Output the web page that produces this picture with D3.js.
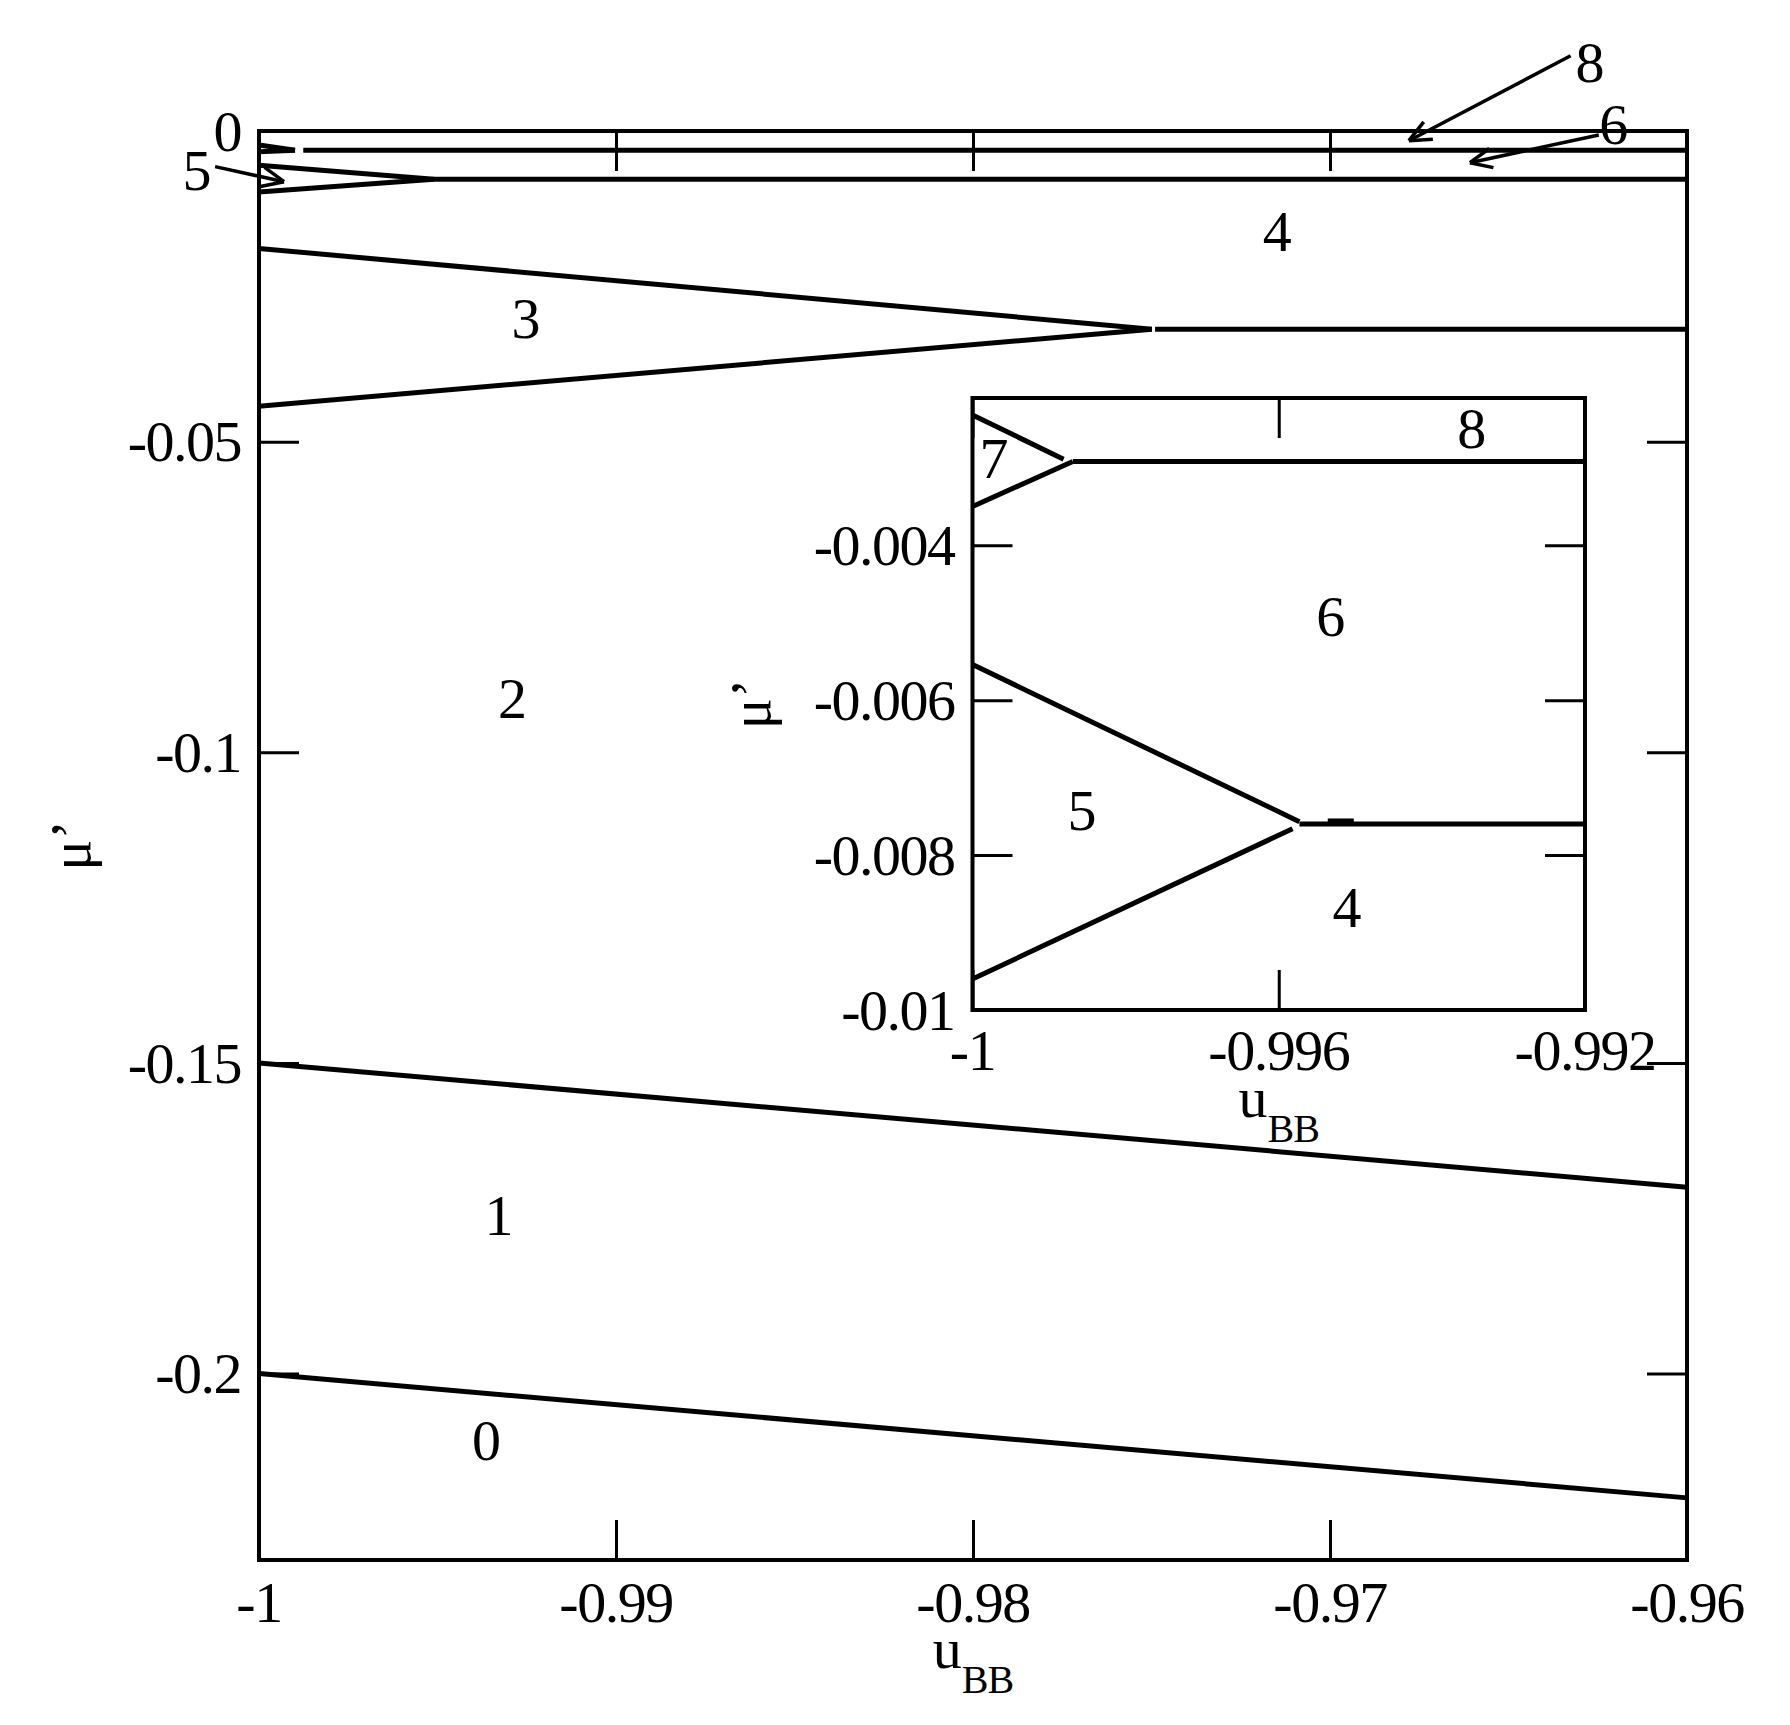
<!DOCTYPE html>
<html>
<head>
<meta charset="utf-8">
<script src="https://d3js.org/d3.v7.min.js"></script>
<style>
  body { margin: 0; background: #fff; }
  text { font-family: "Liberation Serif", "Times New Roman", serif; fill: #000; }
</style>
</head>
<body>
<div id="chart"></div>
<script>
// ---- main panel: axes ----
var mainXTicks = [-1, -0.99, -0.98, -0.97, -0.96];
var mainXLabels = ["-1", "-0.99", "-0.98", "-0.97", "-0.96"];
var mainYTicks = [0, -0.05, -0.1, -0.15, -0.2];
var mainYLabels = ["0", "-0.05", "-0.1", "-0.15", "-0.2"];

// ---- main panel: phase boundaries, [u_BB, mu'] ----
var b01 = [[-1, -0.2], [-0.96, -0.22]];
var b12 = [[-1, -0.15], [-0.96, -0.17]];
var b23 = [[-1, -0.0443], [-0.97499, -0.0319]];
var b34 = [[-1, -0.0189], [-0.97499, -0.0319]];
var b24 = [[-0.9749, -0.0319], [-0.96, -0.0319]];
var b45 = [[-1, -0.0098], [-0.9951, -0.00775]];
var b56 = [[-1, -0.0055], [-0.9951, -0.00775]];
var b46 = [[-0.9951, -0.00775], [-0.96, -0.00775]];
var b67 = [[-1, -0.00333], [-0.99899, -0.0031]];
var b78 = [[-1, -0.00225], [-0.99899, -0.0031]];
var b68 = [[-0.99876, -0.0031], [-0.96, -0.0031]];

// region numbers in the main panel, [u_BB, mu']
var mainRegionText = ["0", "1", "2", "3", "4"];
var mainRegionPos = [[-0.99363, -0.2107], [-0.99328, -0.1745], [-0.9929, -0.0913], [-0.99252, -0.0302], [-0.97148, -0.0162]];

// arrow annotations: label, label position, arrow tail, arrow tip
var arrowText = ["8", "6", "5"];
var arrowTextPos = [[-0.96272, 0.0110], [-0.96205, 0.0011], [-1.00174, -0.0064]];
var arrowFrom = [[-0.96326, 0.0121], [-0.96247, -0.00064], [-1.00123, -0.00574]];
var arrowTo = [[-0.96779, -0.00156], [-0.96608, -0.0051], [-0.9993, -0.00816]];

// ---- inset ----
var insetXTicks = [-1, -0.996, -0.992];
var insetXLabels = ["-1", "-0.996", "-0.992"];
var insetYTicks = [-0.004, -0.006, -0.008, -0.01];
var insetYLabels = ["-0.004", "-0.006", "-0.008", "-0.01"];

var i45 = [[-1, -0.0096], [-0.99582, -0.00766]];
var i56 = [[-1, -0.00554], [-0.99573, -0.00757]];
var i46 = [[-0.99573, -0.0076], [-0.992, -0.0076]];
var i46b = [[-0.99536, -0.00756], [-0.99502, -0.00756]];
var i67 = [[-1, -0.0035], [-0.99869, -0.00292]];
var i78 = [[-1, -0.00232], [-0.99881, -0.00289]];
var i68 = [[-0.99869, -0.00292], [-0.992, -0.00292]];

var insetRegionText = ["8", "7", "6", "5", "4"];
var insetRegionPos = [[-0.99348, -0.00249], [-0.99972, -0.00288], [-0.99532, -0.00492], [-0.99857, -0.00742], [-0.99511, -0.00868]];

var W = 1790, H = 1725;
var FS = 58;

var svg = d3.select("#chart").append("svg")
    .attr("width", W).attr("height", H)
    .style("background", "#fff");

var line = function (x, y) {
    return d3.line().x(function (d) { return x(d[0]); }).y(function (d) { return y(d[1]); });
};

function panel(x, y, o) {
    var g = svg.append("g");
    var x0 = x.range()[0], x1 = x.range()[1], y0 = y.range()[0], y1 = y.range()[1];

    g.append("rect")
        .attr("x", x0).attr("y", y1).attr("width", x1 - x0).attr("height", y0 - y1)
        .attr("fill", "#fff");

    // ticks on all four sides, pointing inward
    var axes = [
        [d3.axisBottom(x).tickValues(o.xt), "translate(0," + y0 + ")"],
        [d3.axisTop(x).tickValues(o.xt), "translate(0," + y1 + ")"],
        [d3.axisLeft(y).tickValues(o.yt), "translate(" + x0 + ",0)"],
        [d3.axisRight(y).tickValues(o.yt), "translate(" + x1 + ",0)"]
    ];
    axes.forEach(function (a) {
        var ag = g.append("g").attr("transform", a[1])
            .call(a[0].tickSizeInner(-40).tickSizeOuter(0).tickFormat(""));
        ag.select(".domain").remove();
        ag.selectAll(".tick line").attr("stroke", "#000").attr("stroke-width", 3);
        ag.selectAll(".tick text").remove();
    });

    // tick labels
    g.selectAll(null).data(o.xt).enter().append("text")
        .attr("x", function (d) { return x(d); })
        .attr("y", y0 + o.xlabGap)
        .attr("text-anchor", "middle")
        .style("font-size", FS + "px").style("letter-spacing", "-1.5px")
        .text(function (d, i) { return o.xl[i]; });
    g.selectAll(null).data(o.yt).enter().append("text")
        .attr("x", x0 - 18)
        .attr("y", function (d) { return y(d); })
        .attr("dy", "0.34em")
        .attr("text-anchor", "end")
        .style("font-size", FS + "px").style("letter-spacing", "-1.5px")
        .text(function (d, i) { return o.yl[i]; });

    // boundaries
    var ln = line(x, y);
    o.lines.forEach(function (d) {
        g.append("path").attr("d", ln(d))
            .attr("fill", "none").attr("stroke", "#000").attr("stroke-width", 5);
    });

    // region numbers
    g.selectAll(null).data(o.rp).enter().append("text")
        .attr("x", function (d) { return x(d[0]); })
        .attr("y", function (d) { return y(d[1]); })
        .attr("dy", "0.34em")
        .attr("text-anchor", "middle")
        .style("font-size", FS + "px")
        .text(function (d, i) { return o.rt[i]; });

    // frame
    g.append("rect")
        .attr("x", x0).attr("y", y1).attr("width", x1 - x0).attr("height", y0 - y1)
        .attr("fill", "none").attr("stroke", "#000").attr("stroke-width", 4);

    // axis titles
    var cx = (x0 + x1) / 2, cy = (y0 + y1) / 2;
    var t = g.append("text")
        .attr("x", cx).attr("y", y0 + o.titleGap)
        .attr("text-anchor", "middle")
        .style("font-size", FS + "px");
    t.append("tspan").text("u");
    t.append("tspan").attr("dy", 25).style("font-size", "40px").style("letter-spacing", "-1px").text("BB");

    g.append("text")
        .attr("transform", "translate(" + o.ylabX + "," + cy + ") rotate(-90)")
        .attr("text-anchor", "middle")
        .style("font-size", FS + "px")
        .text("\u03bc\u2019");

    return g;
}

// ---- main panel ----
var x = d3.scaleLinear().domain([-1, -0.96]).range([259, 1687]);
var y = d3.scaleLinear().domain([-0.23, 0]).range([1560, 131]);

var main = panel(x, y, {
    xt: mainXTicks, xl: mainXLabels, yt: mainYTicks, yl: mainYLabels,
    lines: [b01, b12, b23, b34, b24, b45, b56, b46, b67, b78, b68],
    rt: mainRegionText, rp: mainRegionPos,
    xlabGap: 62, titleGap: 108, ylabX: 90
});

// arrows with open heads
arrowFrom.forEach(function (f, i) {
    var xa = x(f[0]), ya = y(f[1]), xb = x(arrowTo[i][0]), yb = y(arrowTo[i][1]);
    var ang = Math.atan2(ya - yb, xa - xb);
    main.append("line").attr("x1", xa).attr("y1", ya).attr("x2", xb).attr("y2", yb)
        .attr("stroke", "#000").attr("stroke-width", 3.5);
    [-1, 1].forEach(function (s) {
        var a = ang + s * 0.42;
        main.append("line").attr("x1", xb).attr("y1", yb)
            .attr("x2", xb + 24 * Math.cos(a)).attr("y2", yb + 24 * Math.sin(a))
            .attr("stroke", "#000").attr("stroke-width", 3.5);
    });
    main.append("text")
        .attr("x", x(arrowTextPos[i][0])).attr("y", y(arrowTextPos[i][1]))
        .attr("dy", "0.34em").attr("text-anchor", "middle")
        .style("font-size", FS + "px")
        .text(arrowText[i]);
});

// ---- inset ----
var xi = d3.scaleLinear().domain([-1, -0.992]).range([972.5, 1585]);
var yi = d3.scaleLinear().domain([-0.01, -0.0021]).range([1010, 398]);

panel(xi, yi, {
    xt: insetXTicks, xl: insetXLabels, yt: insetYTicks, yl: insetYLabels,
    lines: [i45, i56, i46, i46b, i67, i78, i68],
    rt: insetRegionText, rp: insetRegionPos,
    xlabGap: 60, titleGap: 107, ylabX: 770
});
</script>
</body>
</html>
